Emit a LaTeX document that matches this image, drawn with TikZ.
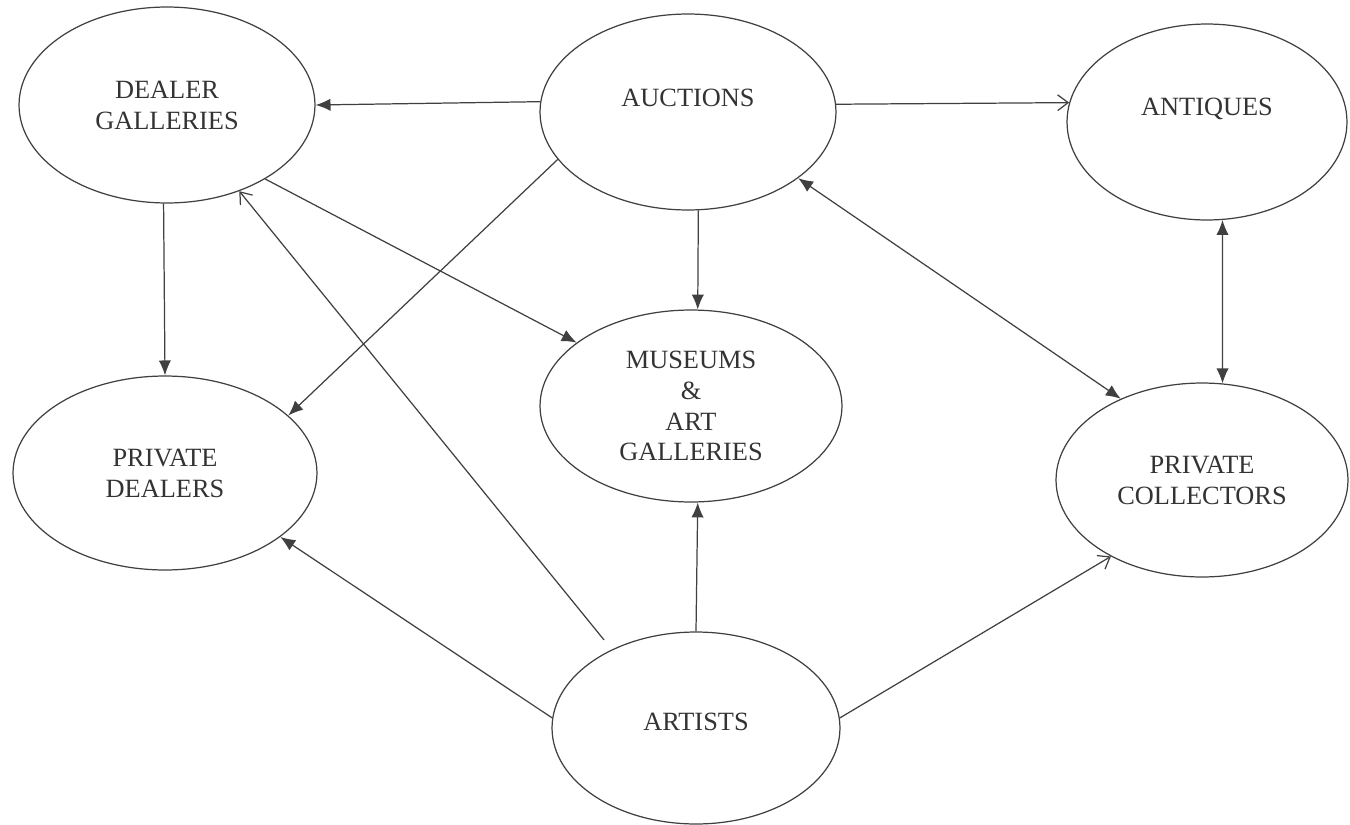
\documentclass[tikz,border=0pt]{standalone}
\usepackage{fontspec}
\setmainfont{Liberation Serif}
\usetikzlibrary{arrows.meta,shapes.geometric}
\begin{document}
\begin{tikzpicture}[x=0.02cm, y=-0.02cm,
  market/.style={draw=black!75, line width=0.7pt, ellipse, align=center, inner sep=0pt,
    text=black!80, font=\fontsize{15}{17.6}\selectfont},
  flow/.style={draw=black!75, line width=0.7pt, -{Latex[length=8.5pt,width=7pt]}},
  flowboth/.style={flow, {Latex[length=8.5pt,width=7pt]}-{Latex[length=8.5pt,width=7pt]}},
  flowbarb/.style={draw=black!75, line width=0.7pt, -{Straight Barb[length=6pt,width=9pt]}}]
\useasboundingbox (0,0) rectangle (1350,825);
\node[market, minimum width=5.92cm, minimum height=3.92cm] (dealer) at (167,105) {DEALER\\GALLERIES};
\node[market, minimum width=5.92cm, minimum height=3.92cm, text depth=16pt] (auction) at (688,112) {AUCTIONS};
\node[market, minimum width=5.6cm, minimum height=3.92cm, text depth=17pt] (antique) at (1207,122) {ANTIQUES};
\node[market, minimum width=6.08cm, minimum height=3.88cm] (pdealer) at (165,473) {PRIVATE\\DEALERS};
\node[market, minimum width=6.04cm, minimum height=3.84cm] (museum) at (691,406) {MUSEUMS\\\&\\ART\\GALLERIES};
\node[market, minimum width=5.84cm, minimum height=3.88cm] (pcoll) at (1202,480) {PRIVATE\\COLLECTORS};
\node[market, minimum width=5.76cm, minimum height=3.84cm, text depth=7pt] (artist) at (696,728) {ARTISTS};
\draw[flow] (auction.176.9) -- (dealer.0.4);
\draw[flowbarb] (auction.3.1) -- (antique.172.5);
\draw[flow] (auction.-84.8) -- (museum.86.4);
\draw[flow] (dealer.-92.3) -- (pdealer.90.6);
\draw[flow] (auction.200) -- (pdealer.25);
\draw[flow] (dealer.-37) -- (museum.151);
\draw[flowboth] (auction.-31) -- (pcoll.135);
\draw[flowboth] (antique.-81) -- (pcoll.78);
\draw[flowbarb, shorten <=7pt] (artist.137) -- (dealer.-50);
\draw[flow] (artist.176) -- (pdealer.-29);
\draw[flow] (artist.north) -- (museum.-86.4);
\draw[flowbarb] (artist.4) -- (pcoll.220);
\end{tikzpicture}
\end{document}
